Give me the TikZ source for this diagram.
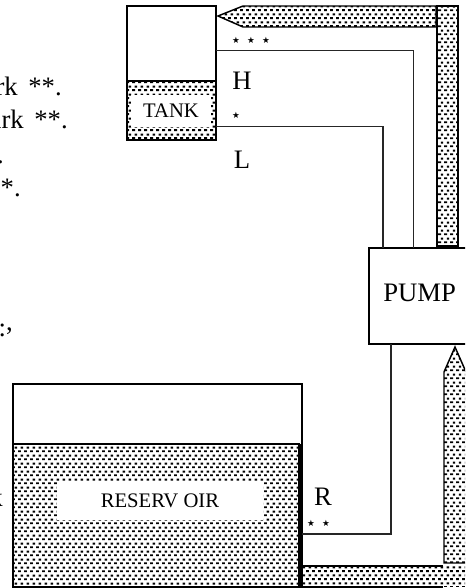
\documentclass[tikz,border=0pt]{standalone}
\usepackage{fontspec}
\setmainfont{Liberation Serif}
\newfontfamily\starfont{DejaVu Sans}
\usetikzlibrary{patterns, positioning}
% rows of short dashes, every second row shifted
\pgfdeclarepatternformonly{fluid dots}{\pgfqpoint{0pt}{0pt}}{\pgfqpoint{4.5pt}{6pt}}{\pgfqpoint{4.5pt}{6pt}}{
  \pgfsetlinewidth{1.6pt}
  \pgfsetdash{}{0pt}
  \pgfpathmoveto{\pgfqpoint{0.1pt}{1.5pt}}\pgfpathlineto{\pgfqpoint{2.6pt}{1.5pt}}
  \pgfpathmoveto{\pgfqpoint{2.35pt}{4.5pt}}\pgfpathlineto{\pgfqpoint{4.4pt}{4.5pt}}
  \pgfusepath{stroke}
}
\tikzset{
  wall/.style={draw=black,line width=1.1pt},
  pipe/.style={draw=black!85,line width=1.1pt},
  fluid/.style={draw=black,line width=1.1pt,pattern=fluid dots,pattern color=black},
  blank/.style={fill=white,inner sep=0pt,font=\fontsize{15.5pt}{15.5pt}\selectfont},
  bigtext/.style={inner sep=0pt,font=\fontsize{20pt}{20pt}\selectfont},
  starmark/.style={inner sep=0pt,font=\starfont\fontsize{6.5pt}{6.5pt}\selectfont}
}
\begin{document}
\begin{tikzpicture}[x=0.75pt,y=-0.75pt]
  \useasboundingbox (0,0) rectangle (465,588);
  \clip (0,0) rectangle (465,588);
  % cut off text at the left
  \node[bigtext,anchor=base east] (t1) at (62,96) {rk\kern3pt\ **.};
  \node[bigtext,anchor=base east] (t2) at (68,129) {ark\kern3pt\ **.};
  \node[bigtext,anchor=base east] (t3) at (4,163) {.};
  \node[bigtext,anchor=base east] (t4) at (21,196) {*.};
  \node[bigtext,anchor=base east] (t5) at (13,336) {:\raisebox{4.5pt}{,}};
  \node[bigtext,anchor=base east] (t6) at (3,506) {k};
  % tank
  \node[wall,minimum width=89*0.75pt,minimum height=134*0.75pt,inner sep=0pt] (tank) at (171.5,73) {};
  \draw[fluid] (127,81) rectangle (216,140);
  \node[blank,minimum width=80*0.75pt,minimum height=32*0.75pt] (tanklabel) at (171,111) {TANK};
  % reservoir
  \node[wall,minimum width=289*0.75pt,minimum height=203*0.75pt,inner sep=0pt] (reservoir) at (157.5,485.5) {};
  \draw[fluid] (13,444) rectangle (299,587);
  \node[blank,minimum width=206*0.75pt,minimum height=38*0.75pt] (reslabel) at (160,501) {RESERV OIR};
  % pump
  \node[wall,fill=white,minimum width=100*0.75pt,minimum height=96*0.75pt,inner sep=0pt] (pump) at (419,296) {};
  \node[bigtext,anchor=west] (pumplabel) at (383,293) {PUMP};
  % fluid pipes
  \draw[fluid] (218,16) -- (243,6) -- (436,6) -- (436,27) -- (243,27) -- cycle;
  \draw[fluid] (437,6) rectangle (458,246);
  \draw[fluid] (455,347) -- (466,372) -- (466,563) -- (444,563) -- (444,372) -- cycle;
  \fill[pattern=fluid dots,pattern color=black] (302,566) rectangle (465,586);
  \draw[line width=1.6pt] (302,566) -- (443,566);
  \draw[line width=1.6pt] (302,587) -- (443,587);
  \draw[line width=2.2pt] (300.5,444) -- (300.5,587);
  % thin pipes
  \coordinate (hin) at (216,50.5);
  \coordinate (lin) at (216,126.5);
  \coordinate (rin) at (302,534);
  \draw[pipe] (hin) -- (413.5,50.5) -- (413.5,248);
  \draw[pipe] (lin) -- (383,126.5) -- (383,248);
  \draw[pipe] (391,344) -- (391,534) -- (rin);
  % labels
  \node[bigtext] (hlabel) at (242,81) {H};
  \node[bigtext] (llabel) at (242,160) {L};
  \node[bigtext] (rlabel) at (323,497) {R};
  \foreach \x in {236,251,266}
    \node[starmark] at (\x,40) {★};
  \node[starmark] at (236,115) {★};
  \foreach \x in {311,326}
    \node[starmark] at (\x,523) {★};
\end{tikzpicture}
\end{document}
